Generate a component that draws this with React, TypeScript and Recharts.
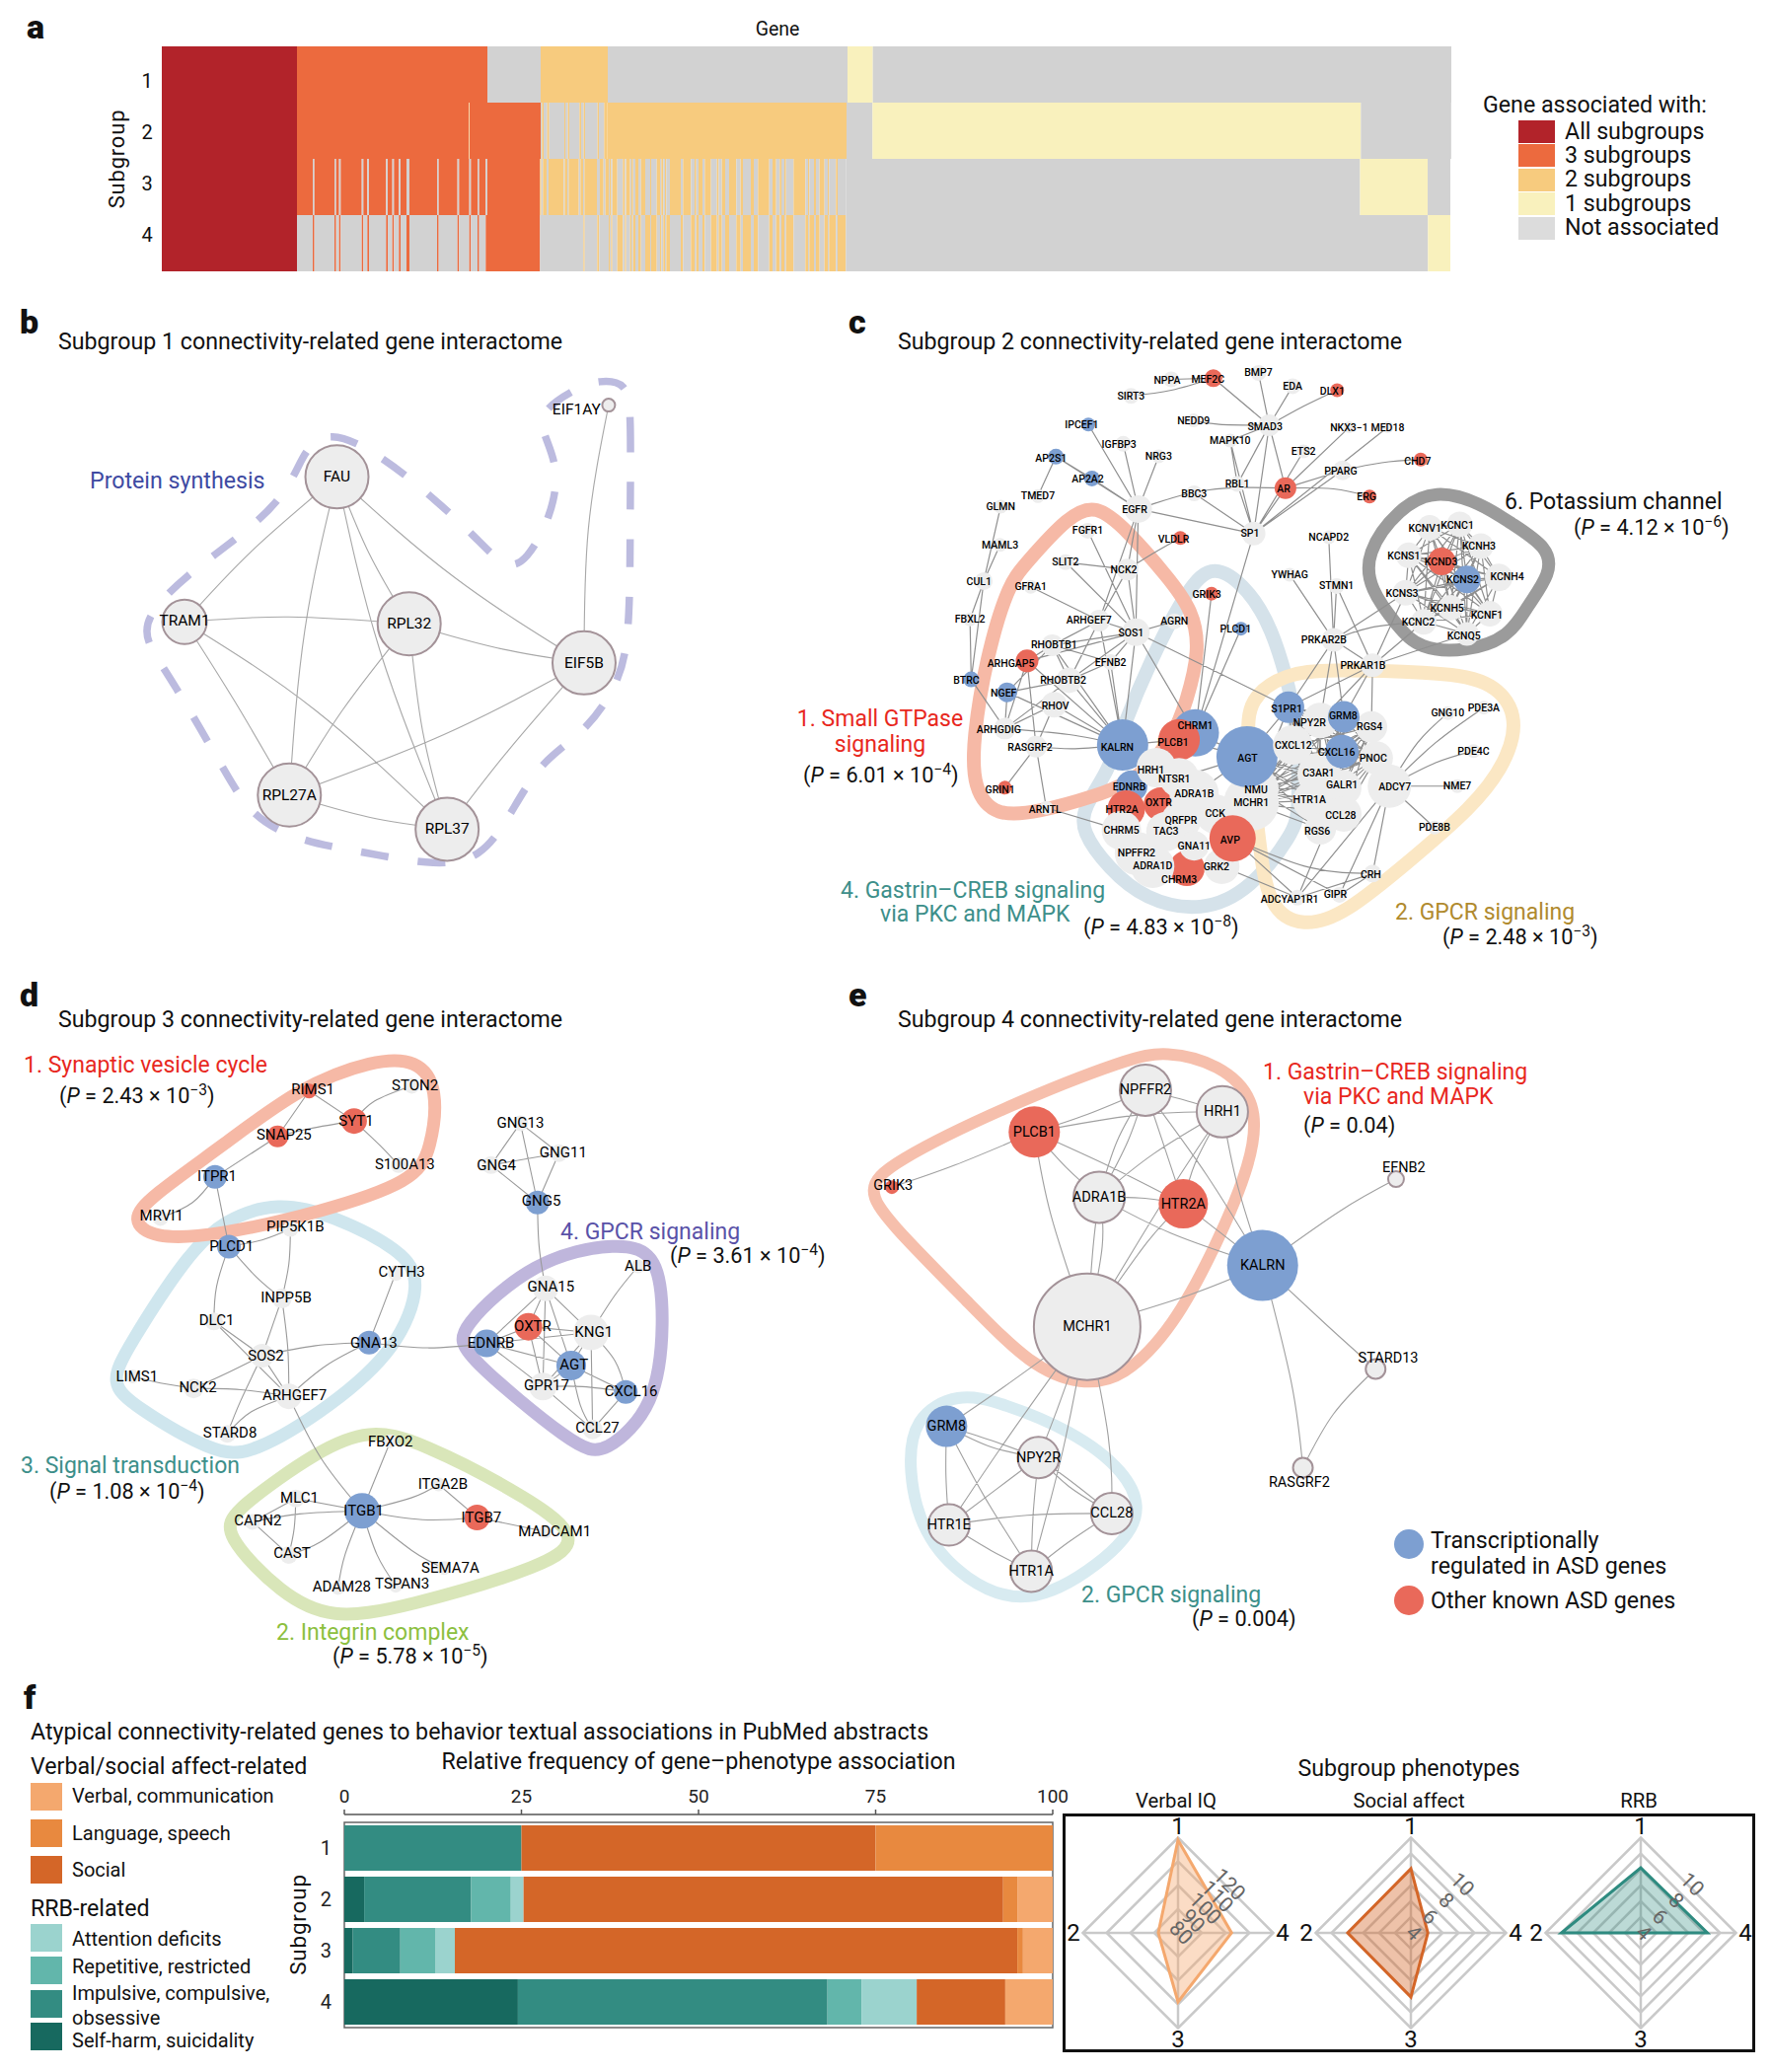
import React from 'react'
import {
  BarChart, Bar, Cell, XAxis, YAxis, ReferenceArea, ComposedChart, Line, Scatter,
  RadarChart, Radar, PolarGrid, PolarAngleAxis, PolarRadiusAxis,
} from 'recharts'

const FONT = 'Roboto, sans-serif'
const BODY = 23.2
const NOTE = 23
const PSIZE = 21.7

// ---- panel a: association per gene block, [status, number of genes]
const statusColors: Record<number, string> = { 4: '#b2232a', 3: '#ec6a3e', 2: '#f7cb7e', 1: '#f9f1bd', 0: '#d2d2d2' }
const subgroups = ['1', '2', '3', '4']
const threeSubgroupStripes = [48, 61, 9, 64, 12, 52, 14, 15, 18, 84, 57, 31, 20, 20]
const threeSubgroupStripeWidths = [5, 5, 5, 5, 5, 5, 5, 5, 9, 5, 5, 5, 5, 5]
const twoSubgroupRow2 = [4, 5, 11, 6, 46, 3, 8, 4, 31, 5, 8, 4, 38, 4, 16, 10]
const twoSubgroupRow3: number[][] = [[2, 4], [0, 5], [2, 11], [0, 6], [2, 46], [0, 3], [2, 8], [0, 4], [2, 31], [0, 5], [2, 8], [0, 4], [2, 38], [0, 9], [2, 11], [0, 6], [2, 4]]
const twoSubgroupRow4: number[][] = [[0, 132], [2, 4], [0, 38], [2, 6], [0, 23]]
// alternating: gene in subgroup 3, gene in subgroup 4, ...
const row3row4Turns = [6, 3, 4, 4, 15, 17, 6, 4, 12, 4, 5, 7, 9, 8, 13, 15, 3, 17, 10, 4, 6, 5, 4, 11, 33, 7, 24, 11, 5, 7, 12, 7, 19, 18, 5, 10, 10, 12, 22, 13, 7, 24, 9, 13, 34, 10, 11, 11, 5, 9, 5, 23, 36, 8, 4, 14, 6, 11, 15, 10, 4, 21, 5, 25]

const stripes3: number[][] = threeSubgroupStripes.flatMap((w, i) => [[3, w], [0, threeSubgroupStripeWidths[i]]])
const stripes4: number[][] = threeSubgroupStripes.flatMap((w, i) => [[0, w], [3, threeSubgroupStripeWidths[i]]])
const row2Two: number[][] = twoSubgroupRow2.map((w, i) => [i % 2 ? 2 : 0, w])

const geneRuns: number[][][] = [
  [[4, 411], [3, 579], [0, 162], [2, 204], [0, 729], [1, 77], [0, 1759]],
  [[4, 411], [3, 522], [1, 2.4], [3, 216.6], ...row2Two, [2, 727], [0, 79], [1, 1485], [0, 274.5]],
  [[4, 411], ...stripes3, [3, 160], ...twoSubgroupRow3, ...row3row4Turns.map((w, i) => [i % 2 ? 0 : 2, w]), [0, 1563.5], [1, 205.5], [0, 69]],
  [[4, 411], ...stripes4, [3, 160], ...twoSubgroupRow4, ...row3row4Turns.map((w, i) => [i % 2 ? 2 : 0, w]), [0, 1770], [1, 68]],
]
const geneRows = subgroups.map((s, r) => {
  const row: Record<string, any> = { subgroup: s }
  geneRuns[r].forEach(([, w], i) => { row['s' + i] = w })
  return row
})
const maxRuns = Math.max(...geneRuns.map(r => r.length))
const geneLegend = [['All subgroups', 4], ['3 subgroups', 3], ['2 subgroups', 2], ['1 subgroups', 1], ['Not associated', 5]] as const

// ---- networks: [name, x, y, radius, kind, label x, label y], in the layout units of each panel
type NodeRow = [string, number, number, number, string, number?, number?]

const nodesB: NodeRow[] = [
  ['FAU', 630, 400, 32, 'g'], ['TRAM1', 345, 760, 22.5, 'g', 345, 758], ['RPL32', 765, 765, 32, 'g'], ['EIF5B', 1092, 862, 32, 'g'],
  ['RPL27A', 541, 1190, 32, 'g'], ['RPL37', 836, 1275, 32, 'g'], ['EIF1AY', 1138, 222, 6.5, 'g', 1078, 233],
]
const edgesB = [
  'FAU TRAM1 470 585', 'FAU RPL27A 570 780', 'FAU RPL37 710 830', 'FAU RPL32 690 590', 'FAU EIF5B 850 650',
  'TRAM1 RPL32 540 748', 'TRAM1 RPL27A 440 960', 'TRAM1 RPL37 590 980', 'RPL32 RPL27A 640 980', 'RPL32 RPL37 790 1030',
  'RPL32 EIF5B 930 825', 'EIF5B RPL27A 830 1040', 'EIF5B RPL37 950 1080', 'RPL27A RPL37 690 1245', 'EIF1AY EIF5B 1100 530',
]
const hullB = [[1172, 165], [1180, 240], [1178, 500], [1178, 800], [1155, 920], [1090, 1040], [1010, 1105], [950, 1250], [900, 1345], [820, 1368], [680, 1332], [560, 1305], [470, 1245], [420, 1130], [320, 900], [272, 810], [272, 750], [340, 650], [480, 520], [545, 420], [570, 330], [615, 285], [700, 335], [800, 440], [890, 550], [945, 630], [985, 610], [1030, 500], [1047, 380], [1012, 285], [1012, 235], [1080, 178], [1120, 160]]

const nodesC: NodeRow[] = [
  ['NPPA', 570, 158, 8, 'g', 563, 160], ['MEF2C', 640, 155, 9, 'r', 631, 158], ['BMP7', 715, 142, 8, 'g'], ['EDA', 772, 175, 8, 'g'], ['DLX1', 846, 185, 7, 'r', 838, 187],
  ['SIRT3', 503, 199, 8, 'g'], ['NEDD9', 607, 260, 7, 'g'], ['SMAD3', 733, 272, 11, 'g', 726, 275], ['MAPK10', 668, 310, 7, 'g'], ['IPCEF1', 432, 270, 7, 'b', 421, 271],
  ['IGFBP3', 490, 318, 8, 'g', 483, 319], ['NRG3', 549, 349, 7, 'g'], ['AP2S1', 378, 350, 8, 'b', 370, 353], ['AP2A2', 438, 404, 8, 'b', 431, 406],
  ['NKX3−1', 866, 277, 6, 'g'], ['MED18', 930, 277, 6, 'g'], ['ETS2', 790, 337, 7, 'g'], ['CHD7', 985, 357, 7, 'r', 980, 361], ['PPARG', 855, 384, 10, 'g', 852, 385],
  ['RBL1', 680, 418, 8, 'g'], ['AR', 760, 428, 11, 'r', 757, 430], ['BBC3', 608, 441, 8, 'g'], ['ERG', 900, 449, 7, 'r', 895, 450], ['TMED7', 348, 448, 7, 'g'],
  ['GLMN', 286, 474, 7, 'g'], ['EGFR', 515, 480, 14, 'g', 509, 481], ['SP1', 707, 541, 12, 'g', 701, 541], ['NCAPD2', 832, 550, 7, 'g'], ['FGFR1', 431, 534, 8, 'g'],
  ['VLDLR', 585, 552, 7, 'r', 574, 554], ['MAML3', 285, 569, 7, 'g'], ['SLIT2', 394, 612, 8, 'g'], ['NCK2', 497, 630, 11, 'g', 491, 630], ['GRIK3', 637, 690, 7, 'r', 629, 691],
  ['CUL1', 258, 659, 9, 'g', 250, 660], ['GFRA1', 336, 673, 7, 'g'], ['YWHAG', 767, 643, 7, 'g'], ['STMN1', 845, 671, 8, 'g'], ['FBXL2', 235, 754, 7, 'g'], ['ARHGEF7', 450, 757, 11, 'g', 433, 757],
  ['AGRN', 575, 759, 8, 'g'], ['SOS1', 511, 786, 14, 'g', 503, 787], ['PLCD1', 686, 777, 7, 'b', 677, 779], ['RHOBTB1', 372, 818, 11, 'g', 375, 816], ['PRKAR2B', 840, 805, 12, 'g', 824, 806],
  ['ARHGAP5', 330, 857, 11.5, 'r', 303, 864], ['EFNB2', 469, 860, 8, 'g'], ['PRKAR1B', 905, 868, 12, 'g', 889, 868], ['BTRC', 237, 903, 8, 'b', 229, 906], ['RHOBTB2', 400, 905, 13, 'g', 390, 906],
  ['NGEF', 297, 935, 10, 'b', 291, 937], ['RHOV', 375, 966, 13, 'g', 377, 969], ['ARHGDIG', 293, 1025, 11, 'g', 283, 1027], ['RASGRF2', 345, 1070, 11, 'g', 335, 1071], ['ARNTL', 362, 1222, 7, 'g', 360, 1226], ['GRIN1', 293, 1172, 7, 'r', 285, 1176],
  ['GNG10', 1030, 987, 7, 'g'], ['PDE3A', 1090, 973, 7, 'g'], ['PDE4C', 1073, 1081, 7, 'g'], ['NME7', 1046, 1168, 7, 'g'], ['PDE8B', 1008, 1271, 7, 'g'],
  ['ADCYAP1R1', 780, 1445, 8, 'g', 767, 1450], ['GIPR', 850, 1438, 8, 'g', 843, 1437], ['CRH', 905, 1385, 9, 'g', 902, 1387],
  ['KCNV1', 1000, 527, 13, 'g', 992, 528], ['KCNC1', 1050, 518, 13, 'g', 1046, 520], ['KCNH3', 1085, 572, 13, 'g', 1082, 573], ['KCNS1', 965, 595, 13, 'g', 957, 596], ['KCNH4', 1115, 650, 14, 'g', 1129, 648],
  ['KCNS3', 960, 688, 13, 'g', 954, 689], ['KCNH5', 1035, 725, 13, 'g', 1029, 727], ['KCNF1', 1100, 740, 13, 'g', 1095, 743], ['KCNC2', 990, 760, 13, 'g', 981, 761], ['KCNQ5', 1062, 790, 12, 'g', 1057, 794],
  ['KCND3', 1020, 610, 14, 'r', 1019, 611], ['KCNS2', 1062, 655, 14, 'b', 1055, 656],
  ['CHRM1', 610, 1036, 24, 'b', 610, 1019], ['PLCB1', 583, 1053, 21, 'r', 573, 1059], ['EDNRB', 504, 1168, 16, 'b', 500, 1170], ['KALRN', 489, 1066, 26, 'b', 480, 1071],
  ['HTR2A', 495, 1225, 19, 'r', 488, 1226], ['OXTR', 552, 1213, 17, 'r', 549, 1208], ['CHRM3', 596, 1372, 18, 'r', 583, 1401],
  ['HRH1', 545, 1122, 20, 'g', 536, 1127], ['NTSR1', 583, 1147, 20, 'g', 575, 1151], ['ADRA1B', 608, 1188, 25, 'g'], ['NMU', 711, 1176, 23, 'g'], ['MCHR1', 703, 1210, 28, 'g'],
  ['QRFPR', 586, 1254, 20, 'g'], ['CCK', 643, 1237, 20, 'g'], ['CHRM5', 487, 1278, 20, 'g'], ['TAC3', 561, 1281, 20, 'g'], ['GNA11', 608, 1316, 15, 'g'], ['NPFFR2', 512, 1335, 22, 'g'], ['ADRA1D', 539, 1367, 22, 'g'], ['GRK2', 654, 1367, 18, 'g', 645, 1368],
  ['AGT', 696, 1095, 31, 'b', 697, 1099], ['AVP', 672, 1298, 23.5, 'r', 668, 1301],
  ['NPY2R', 818, 1005, 18, 'g', 800, 1010], ['S1PR1', 765, 972, 16, 'b', 762, 976], ['RGS4', 903, 1021, 16, 'g', 900, 1021], ['CXCL12', 772, 1066, 20, 'g', 773, 1067], ['PNOC', 911, 1098, 17, 'g', 906, 1100], ['C3AR1', 816, 1139, 22, 'g', 815, 1135],
  ['GALR1', 857, 1172, 18, 'g', 854, 1166], ['ADCY7', 933, 1168, 22, 'g', 942, 1170], ['HTR1A', 805, 1204, 20, 'g', 800, 1202], ['CCL28', 857, 1237, 18, 'g', 852, 1240], ['RGS6', 818, 1274, 16, 'g', 813, 1280],
  ['GRM8', 857, 996, 16, 'b', 856, 993], ['CXCL16', 854, 1082, 17, 'b', 845, 1083],
]
const edgesC = [
  'NPPA MEF2C', 'SIRT3 MEF2C 570 185', 'MEF2C SMAD3', 'BMP7 SMAD3', 'EDA SMAD3', 'DLX1 SMAD3 790 225', 'NEDD9 SMAD3 650 270', 'SMAD3 RBL1', 'SMAD3 SP1', 'SMAD3 AR', 'SMAD3 MAPK10',
  'MAPK10 RBL1', 'MAPK10 SP1', 'RBL1 SP1', 'AR SP1', 'AR PPARG', 'AR ERG 840 430', 'EGFR AR 630 433', 'ETS2 SP1', 'NKX3−1 AR', 'MED18 SP1', 'PPARG SP1', 'PPARG CHD7 920 365', 'BBC3 SP1',
  'IPCEF1 EGFR', 'IGFBP3 EGFR', 'NRG3 EGFR', 'AP2S1 AP2A2', 'AP2S1 EGFR', 'AP2A2 EGFR', 'AP2S1 TMED7', 'GLMN CUL1', 'MAML3 CUL1', 'CUL1 FBXL2', 'CUL1 BTRC', 'FBXL2 BTRC',
  'EGFR NCK2', 'EGFR SOS1', 'EGFR ARHGEF7', 'FGFR1 SOS1', 'NCK2 SLIT2 440 620', 'NCK2 VLDLR 540 590', 'NCK2 SOS1', 'NCK2 ARHGEF7', 'SLIT2 SOS1', 'GFRA1 ARHGEF7', 'ARHGEF7 SOS1', 'SOS1 AGRN', 'SOS1 RHOBTB1', 'SOS1 ARHGAP5',
  'SOS1 RHOBTB2', 'SOS1 EFNB2', 'SOS1 S1PR1', 'SOS1 CHRM1', 'SOS1 KALRN', 'ARHGEF7 KALRN', 'EFNB2 KALRN', 'RHOBTB1 KALRN', 'RHOBTB2 KALRN', 'RHOV KALRN', 'NGEF KALRN', 'ARHGAP5 KALRN', 'ARHGDIG KALRN 400 1040', 'RASGRF2 KALRN 410 1075',
  'ARHGDIG ARHGAP5', 'ARHGDIG RHOV', 'ARHGDIG NGEF', 'ARHGDIG RHOBTB2', 'RASGRF2 RHOV', 'RASGRF2 ARHGAP5', 'NGEF RHOBTB1', 'NGEF RHOBTB2', 'BTRC ARHGDIG', 'RASGRF2 GRIN1', 'RASGRF2 ARNTL', 'ARNTL CHRM5', 'RHOBTB1 ARHGAP5', 'RHOBTB1 RHOBTB2', 'ARHGEF7 RHOBTB1', 'ARHGEF7 RHOBTB2', 'EFNB2 RHOBTB2', 'EFNB2 RHOBTB1',
  'GRIK3 CHRM1', 'SP1 CHRM1', 'PLCD1 CHRM1', 'EGFR SP1',
  'YWHAG PRKAR2B', 'NCAPD2 PRKAR2B', 'STMN1 PRKAR2B', 'STMN1 PRKAR1B', 'PRKAR2B PRKAR1B', 'PRKAR2B KCNS3', 'PRKAR2B KCNC2 900 775', 'PRKAR1B KCNC2', 'PRKAR1B KCNQ5', 'PRKAR1B KCNS3',
  'PRKAR2B S1PR1', 'PRKAR2B NPY2R', 'PRKAR2B GRM8', 'PRKAR1B GRM8', 'PRKAR1B RGS4', 'PRKAR1B NPY2R', 'PRKAR1B S1PR1',
  'GNG10 ADCY7 980 1060', 'PDE3A ADCY7 1010 1060', 'PDE4C ADCY7 1010 1110', 'NME7 ADCY7', 'PDE8B ADCY7', 'ADCY7 ADCYAP1R1', 'ADCY7 GIPR', 'ADCY7 CRH', 'GALR1 ADCYAP1R1',
  'AVP CRH 800 1370', 'AVP GIPR', 'AVP ADCYAP1R1', 'GRK2 ADCYAP1R1', 'CRH GIPR', 'CRH ADCYAP1R1', 'RGS6 MCHR1',
  'AGT CHRM1', 'AGT PLCB1', 'AGT NTSR1', 'AGT ADRA1B', 'PLCB1 KALRN',
]
const denseC = ['AGT', 'S1PR1', 'NPY2R', 'CXCL12', 'CXCL16', 'GRM8', 'C3AR1', 'GALR1', 'HTR1A', 'CCL28', 'RGS6', 'PNOC', 'RGS4', 'MCHR1', 'NMU']
const potassiumC = ['KCNV1', 'KCNC1', 'KCNH3', 'KCNS1', 'KCNH4', 'KCNS3', 'KCNH5', 'KCNF1', 'KCNC2', 'KCNQ5', 'KCND3', 'KCNS2']
const cliquePairs = (names: string[]) => names.flatMap((a, i) => names.slice(i + 1).map(b => a + ' ' + b))
const hullC1 = [[445, 468], [495, 530], [565, 650], [605, 730], [618, 830], [595, 960], [575, 1040], [520, 1150], [440, 1195], [350, 1232], [278, 1245], [240, 1175], [240, 1050], [262, 850], [298, 670], [325, 620], [400, 495]]
const hullC2 = [[830, 878], [1000, 885], [1100, 900], [1150, 990], [1128, 1110], [1072, 1220], [960, 1362], [860, 1485], [790, 1520], [730, 1472], [716, 1300], [696, 1050], [698, 950], [760, 888]]
const hullC4 = [[640, 612], [700, 680], [738, 780], [762, 900], [778, 1000], [784, 1230], [773, 1285], [703, 1425], [620, 1482], [526, 1450], [466, 1373], [420, 1280], [424, 1220], [466, 1130], [487, 1030], [537, 850], [598, 675]]
const hullC6 = [[1010, 430], [1085, 465], [1135, 515], [1198, 575], [1202, 640], [1163, 720], [1133, 798], [1060, 835], [982, 828], [947, 772], [900, 680], [893, 590], [948, 478]]

const nodesD: NodeRow[] = [
  ['RIMS1', 578, 237, 7.5, 'r', 585, 233], ['STON2', 770, 225, 8, 'g', 776, 225], ['SYT1', 662, 305, 13, 'r', 666, 305], ['SNAP25', 519, 340, 11, 'r', 531, 337], ['S100A13', 745, 405, 8, 'g', 757, 403],
  ['ITPR1', 402, 432, 12, 'b', 406, 430], ['MRVI1', 300, 525, 8, 'g', 302, 520], ['PIP5K1B', 543, 550, 8, 'g', 552, 545], ['PLCD1', 428, 590, 12, 'b', 433, 590], ['CYTH3', 740, 650, 8, 'g', 751, 647],
  ['INPP5B', 527, 708, 10, 'g', 535, 705], ['DLC1', 400, 760, 9, 'g', 405, 757], ['GNA13', 690, 808, 12, 'b', 699, 808], ['SOS2', 490, 838, 12, 'g', 497, 838], ['LIMS1', 248, 885, 7, 'g', 256, 885],
  ['NCK2', 362, 912, 10, 'g', 370, 910], ['ARHGEF7', 540, 930, 13, 'g', 551, 928], ['STARD8', 425, 1015, 9, 'g', 430, 1012], ['GNG13', 973, 310, 8, 'g'], ['GNG11', 1045, 378, 9, 'g', 1053, 376],
  ['GNG4', 918, 405, 9, 'g', 928, 406], ['GNG5', 1005, 490, 12, 'b', 1012, 487], ['ALB', 1193, 635, 7, 'g'], ['GNA15', 1020, 685, 13, 'g', 1030, 681], ['KNG1', 1105, 785, 18, 'g', 1110, 785],
  ['OXTR', 988, 772, 14, 'r', 996, 770], ['EDNRB', 910, 810, 14, 'b', 918, 808], ['GPR17', 1015, 908, 14, 'g', 1022, 905], ['AGT', 1068, 860, 15, 'b', 1073, 859], ['CXCL16', 1170, 920, 12, 'b', 1180, 918],
  ['CCL27', 1108, 1005, 10, 'g', 1117, 1002], ['FBXO2', 730, 1032, 7, 'g'], ['ITGA2B', 820, 1130, 7, 'g', 828, 1130], ['MLC1', 553, 1162, 9, 'g', 560, 1160], ['ITGB1', 677, 1190, 18, 'b', 680, 1190],
  ['ITGB7', 892, 1205, 13, 'r', 900, 1205], ['CAPN2', 472, 1215, 8, 'g', 482, 1212], ['MADCAM1', 1020, 1237, 7, 'g', 1037, 1236], ['CAST', 540, 1290, 9, 'g', 546, 1286], ['SEMA7A', 830, 1320, 7, 'g', 842, 1320],
  ['ADAM28', 632, 1365, 7, 'g', 639, 1362], ['TSPAN3', 740, 1360, 7, 'g', 752, 1356],
]
const edgesD = [
  'STON2 SYT1 700 260', 'RIMS1 SYT1', 'RIMS1 SNAP25', 'SNAP25 SYT1 580 322', 'SYT1 S100A13 710 360', 'SNAP25 ITPR1', 'ITPR1 MRVI1 360 490', 'ITPR1 PLCD1', 'PLCD1 PIP5K1B 490 575', 'PLCD1 INPP5B 480 660', 'PLCD1 DLC1 405 680',
  'PIP5K1B INPP5B 540 630', 'INPP5B SOS2', 'INPP5B ARHGEF7 538 820', 'DLC1 SOS2', 'DLC1 ARHGEF7', 'CYTH3 GNA13 715 730', 'SOS2 GNA13 590 815', 'GNA13 ARHGEF7 610 860', 'GNA13 EDNRB 800 820', 'SOS2 NCK2 420 880',
  'SOS2 ARHGEF7', 'SOS2 STARD8 450 940', 'NCK2 LIMS1 300 900', 'NCK2 ARHGEF7 450 915', 'ARHGEF7 STARD8 470 965', 'ARHGEF7 ITGB1 600 1070',
  'GNG13 GNG11', 'GNG13 GNG4', 'GNG13 GNG5', 'GNG11 GNG4', 'GNG11 GNG5', 'GNG4 GNG5', 'GNG5 GNA15 1008 590',
  'GNA15 EDNRB', 'GNA15 OXTR', 'GNA15 KNG1', 'GNA15 AGT', 'GNA15 GPR17', 'ALB KNG1 1150 700', 'OXTR KNG1', 'OXTR AGT', 'OXTR GPR17', 'EDNRB KNG1', 'EDNRB AGT', 'EDNRB GPR17', 'EDNRB OXTR',
  'KNG1 AGT', 'KNG1 GPR17', 'KNG1 CXCL16 1150 850', 'KNG1 CCL27', 'AGT CXCL16', 'AGT GPR17', 'AGT CCL27 1085 950', 'GPR17 CXCL16 1090 908', 'GPR17 CCL27', 'CXCL16 CCL27',
  'FBXO2 ITGB1', 'ITGA2B ITGB1 770 1160', 'ITGA2B ITGB7', 'ITGB1 ITGB7 790 1210', 'ITGB7 MADCAM1', 'MLC1 ITGB1', 'MLC1 CAPN2', 'MLC1 CAST 550 1230', 'CAPN2 ITGB1 560 1197', 'CAPN2 CAST', 'CAST ITGB1 600 1260', 'ADAM28 ITGB1 645 1290', 'TSPAN3 ITGB1 705 1290', 'SEMA7A ITGB1 770 1280',
]
const hullD1 = [[700, 165], [780, 165], [820, 230], [806, 370], [775, 442], [600, 512], [400, 567], [285, 572], [245, 530], [280, 478], [420, 358], [560, 228]]
const hullD2 = [[520, 488], [620, 518], [752, 598], [790, 670], [743, 822], [620, 952], [470, 1064], [400, 1060], [250, 952], [205, 900], [238, 820], [350, 608], [420, 528]]
const hullD3 = [[690, 1006], [780, 1028], [1000, 1168], [1085, 1252], [1030, 1312], [750, 1412], [620, 1436], [528, 1382], [415, 1240], [438, 1188], [600, 1048]]
const hullD4 = [[1160, 578], [1232, 608], [1242, 760], [1228, 952], [1130, 1064], [1078, 1048], [862, 830], [855, 780], [998, 618]]

const nodesE: NodeRow[] = [
  ['NPFFR2', 527, 235, 26, 'g'], ['HRH1', 655, 284, 26, 'g'], ['PLCB1', 342, 330, 26, 'r'], ['GRIK3', 105, 455, 7, 'r', 107, 452], ['ADRA1B', 450, 478, 26, 'g'], ['HTR2A', 590, 493, 25, 'r'],
  ['KALRN', 722, 633, 36, 'b'], ['MCHR1', 430, 772, 54, 'g'], ['EFNB2', 944, 437, 8, 'g', 957, 410], ['STARD13', 910, 868, 10, 'g', 931, 843], ['RASGRF2', 789, 1092, 10, 'g', 783, 1125],
  ['GRM8', 196, 998, 21, 'b'], ['NPY2R', 349, 1069, 21, 'g'], ['CCL28', 471, 1196, 21, 'g'], ['HTR1E', 200, 1222, 21, 'g'], ['HTR1A', 337, 1327, 21, 'g'],
]
const edgesE = [
  'NPFFR2 PLCB1 430 290', 'NPFFR2 HRH1 585 255', 'PLCB1 HRH1 510 292', 'PLCB1 GRIK3 210 405', 'PLCB1 ADRA1B 395 410', 'PLCB1 HTR2A 470 410', 'PLCB1 MCHR1 370 520', 'NPFFR2 ADRA1B 480 350', 'NPFFR2 ADRA1B 498 350',
  'NPFFR2 HTR2A 560 370', 'NPFFR2 KALRN 630 430', 'HRH1 ADRA1B 540 380', 'HRH1 HTR2A 610 400', 'HRH1 MCHR1 560 480', 'HRH1 KALRN 680 450', 'ADRA1B HTR2A 520 480', 'ADRA1B KALRN 570 560', 'ADRA1B MCHR1 440 590', 'ADRA1B MCHR1 455 590',
  'HTR2A KALRN', 'HTR2A MCHR1 530 580', 'KALRN MCHR1 600 700', 'KALRN EFNB2 850 510', 'KALRN STARD13 830 770', 'KALRN RASGRF2 770 900', 'STARD13 RASGRF2 840 970',
  'MCHR1 GRM8 290 910', 'MCHR1 NPY2R 380 960', 'MCHR1 HTR1E 300 1020', 'MCHR1 HTR1A 390 1050', 'MCHR1 CCL28 465 1020', 'GRM8 NPY2R 270 1030', 'GRM8 NPY2R 270 1045', 'GRM8 HTR1E 195 1110', 'GRM8 HTR1A 260 1160',
  'NPY2R HTR1E 280 1140', 'NPY2R HTR1A 340 1200', 'NPY2R CCL28 410 1130', 'NPY2R CCL28 400 1135', 'HTR1E CCL28 330 1200', 'HTR1E HTR1A 270 1280', 'HTR1A CCL28 400 1260',
]
const hullE1 = [[560, 146], [650, 174], [716, 260], [704, 400], [644, 590], [574, 772], [490, 890], [420, 905], [336, 862], [236, 722], [96, 530], [64, 460], [98, 403], [300, 268], [500, 162]]
const hullE2 = [[215, 920], [290, 946], [402, 1006], [494, 1098], [528, 1205], [452, 1314], [330, 1410], [226, 1349], [155, 1242], [132, 1100], [140, 978]]

// ---- panel f
const phenotypeRows = ['1', '2', '3', '4']
const selfHarm = [0, 2.8, 1.2, 24.5]
const impulsive = [25, 15.1, 6.7, 43.7]
const repetitive = [0, 5.6, 5, 4.8]
const attention = [0, 1.8, 2.7, 7.8]
const social = [50, 67.7, 79.4, 12.5]
const language = [25, 2, 0.8, 0]
const verbal = [0, 5, 4.2, 6.7]
const freqTicks = [0, 25, 50, 75, 100]
const freqSeries: [string, number[], string][] = [
  ['selfHarm', selfHarm, '#17695f'], ['impulsive', impulsive, '#338c82'], ['repetitive', repetitive, '#62b6ab'], ['attention', attention, '#9bd3ce'],
  ['social', social, '#d46628'], ['language', language, '#e8893f'], ['verbal', verbal, '#f4a86e'],
]
const freqRows = phenotypeRows.map((s, i) => {
  const row: Record<string, any> = { subgroup: s }
  freqSeries.forEach(([k, v]) => { row[k] = v[i] })
  return row
})

// subgroups clockwise from the top
const radarAxes = ['1', '4', '3', '2']
const verbalIQ = [119, 102.5, 109, 88.3]
const socialAffect = [8.05, 5.07, 8.05, 7.98]
const rrb = [8.1, 8.2, 4, 9]

const KIND_FILL: Record<string, string> = { g: '#ededed', b: '#7d9fd1', r: '#e9695a' }
const RED = '#e8281e'
const TEAL = '#3d8f8a'
const RADAR_C = 140

function T({ x, y, size = BODY, color = '#111', anchor = 'start', weight = 400, children }: any) {
  const tx = anchor === 'center' ? '-50%' : anchor === 'end' ? '-100%' : '0'
  return (
    <div style={{ position: 'absolute', left: x, top: y, transform: `translate(${tx},-50%)`, fontSize: size, color, fontWeight: weight, whiteSpace: 'nowrap', lineHeight: 1 }}>
      {children}
    </div>
  )
}

function PVal({ x, y, v, exp, size = PSIZE }: any) {
  return (
    <T x={x} y={y} size={size}>
      (<i>P</i> = {v}{exp ? <> × 10<sup style={{ fontSize: size * 0.72, lineHeight: 0 }}>{exp}</sup></> : null})
    </T>
  )
}

const pts = (a: number[][]) => a.map(([x, y]) => ({ x, y }))

function Network({ left, top, width, height, nodes, edges, hulls, fontSize, outlined, edgeColor, edgeWidth = 1.1, fontWeight = 400 }: any) {
  const byName: Record<string, NodeRow> = {}
  nodes.forEach((n: NodeRow) => { byName[n[0]] = n })
  const edgePoints: any[] = []
  edges.forEach((e: string) => {
    const [a, b, mx, my] = e.split(' ')
    edgePoints.push({ x: byName[a][1], y: byName[a][2] })
    if (mx) edgePoints.push({ x: +mx, y: +my })
    edgePoints.push({ x: byName[b][1], y: byName[b][2] })
    edgePoints.push({ x: null, y: null })
  })
  const nodeData = nodes.map((n: NodeRow) => ({ x: n[1], y: n[2], r: n[3], kind: n[4] }))
  const labelData = nodes.map((n: NodeRow) => ({ x: n[5] ?? n[1], y: n[6] ?? n[2], name: n[0] }))
  return (
    <ComposedChart width={width} height={height} margin={{ top: 0, right: 0, bottom: 0, left: 0 }} style={{ position: 'absolute', left, top }}>
      <XAxis type="number" dataKey="x" domain={[0, 1568]} hide />
      <YAxis type="number" dataKey="y" domain={[0, 1568]} reversed hide />
      {hulls.map((h: any, i: number) => (
        <Line key={i} data={pts(h.points)} dataKey="y" type="basisClosed" dot={false} activeDot={false} stroke={h.color} strokeWidth={h.width}
          strokeDasharray={h.dash} isAnimationActive={false} />
      ))}
      <Line data={edgePoints} dataKey="y" type="natural" dot={false} activeDot={false} stroke={edgeColor} strokeWidth={edgeWidth} isAnimationActive={false} />
      <Scatter data={nodeData} isAnimationActive={false} shape={(p: any) => (
        <circle cx={p.cx} cy={p.cy} r={p.payload.r} fill={KIND_FILL[p.payload.kind]}
          stroke={outlined && p.payload.kind === 'g' ? '#a39298' : 'none'} strokeWidth={outlined ? 2 : 0} />
      )} />
      <Scatter data={labelData} isAnimationActive={false} shape={(p: any) => (
        <text x={p.cx} y={p.cy} textAnchor="middle" dominantBaseline="central" fontSize={fontSize} fontWeight={fontWeight} fill="#000" fontFamily={FONT}>{p.payload.name}</text>
      )} />
    </ComposedChart>
  )
}

function GeneTick({ x, y, payload, index }: any) {
  const shift = [6.5, 1, -4, -9][index]
  return <text x={x - 7} y={y + shift} textAnchor="middle" dominantBaseline="central" fontSize={20} fill="#111" fontFamily={FONT}>{payload.value}</text>
}

function GeneMatrix() {
  return (
    <BarChart layout="vertical" width={1371} height={228} data={geneRows} barCategoryGap={0} margin={{ top: 0, right: 0, bottom: 0, left: 0 }}
      style={{ position: 'absolute', left: 100, top: 47 }}>
      <XAxis type="number" domain={[0, 3921]} hide />
      <YAxis type="category" dataKey="subgroup" width={64} axisLine={false} tickLine={false} tick={<GeneTick />}
        label={{ value: 'Subgroup', angle: -90, position: 'center', dx: -14, fontSize: 22, fill: '#111', letterSpacing: 0.8 }} />
      {Array.from({ length: maxRuns }, (_, i) => (
        <Bar key={i} dataKey={'s' + i} stackId="a" isAnimationActive={false}>
          {geneRuns.map((run, r) => <Cell key={r} fill={statusColors[run[i] ? run[i][0] : 0]} />)}
        </Bar>
      ))}
    </BarChart>
  )
}

function FreqChart() {
  return (
    <BarChart layout="vertical" width={797} height={262} data={freqRows} barCategoryGap={3} margin={{ top: 0, right: 20, bottom: 0, left: 0 }}
      style={{ position: 'absolute', left: 290, top: 1800 }}>
      <XAxis type="number" orientation="top" domain={[0, 100]} ticks={freqTicks} height={39} interval={0} stroke="#555" strokeWidth={1.5} tickSize={5} tickMargin={7}
        tick={{ fontSize: 19, fill: '#222', fontFamily: FONT }} />
      <YAxis type="category" dataKey="subgroup" width={59} axisLine={false} tickLine={false} padding={{ top: 8, bottom: 7 }} tickMargin={7}
        tick={{ fontSize: 20, fill: '#222', fontFamily: FONT }}
        label={{ value: 'Subgroup', angle: -90, position: 'center', dx: -17, fontSize: 22.5, fill: '#111', letterSpacing: 0.8 }} />
      <ReferenceArea x1={0} x2={100} fill="none" stroke="#666" strokeWidth={1.5} ifOverflow="visible" />
      {freqSeries.map(([k, , c]) => <Bar key={k} dataKey={k} stackId="a" fill={c} isAnimationActive={false} />)}
    </BarChart>
  )
}

function RadiusTick({ x, y, payload, step }: any) {
  if (step && payload.value % step !== 0) return null
  // the axis sits on the middle of the diamond edge, not on a true circle
  const px = RADAR_C + (x - RADAR_C) * 0.72 + 3
  const py = RADAR_C + (y - RADAR_C) * 0.72
  return <text x={px} y={py} transform={`rotate(45 ${px} ${py})`} textAnchor="middle" dominantBaseline="central" fontSize={21} fill="#666" fontFamily={FONT}>{payload.value}</text>
}

function AngleTick({ x, y, payload }: any) {
  const dx = x - RADAR_C
  const dy = y - RADAR_C
  const horizontal = Math.abs(dx) > Math.abs(dy)
  const px = horizontal ? RADAR_C + Math.sign(dx) * 106 : RADAR_C
  const py = horizontal ? RADAR_C : RADAR_C + Math.sign(dy) * 108
  return <text x={px} y={py} textAnchor="middle" dominantBaseline="central" fontSize={24} fill="#111" fontFamily={FONT}>{payload.value}</text>
}

function Phenotype({ left, values, domain, tickCount, step, color, fillOpacity }: any) {
  const data = radarAxes.map((s, i) => ({ s, v: values[i] }))
  return (
    <RadarChart width={RADAR_C * 2} height={RADAR_C * 2} data={data} outerRadius={96.5} margin={{ top: 0, right: 0, bottom: 0, left: 0 }}
      style={{ position: 'absolute', left, top: 1819 }}>
      <PolarGrid gridType="polygon" stroke="#c9c9c9" strokeWidth={2.5} />
      <PolarAngleAxis dataKey="s" tick={<AngleTick />} tickLine={false} axisLine={false} />
      <Radar dataKey="v" stroke={color} strokeWidth={3} fill={color} fillOpacity={fillOpacity} isAnimationActive={false} />
      <PolarRadiusAxis angle={45} domain={domain} tickCount={tickCount} axisLine={false} tickLine={false} tick={<RadiusTick step={step} />} />
    </RadarChart>
  )
}

function Swatch({ x, y, w, h, c }: any) {
  return <div style={{ position: 'absolute', left: x, top: y, width: w, height: h, background: c }} />
}

function Dot({ x, y, r, c }: any) {
  return <div style={{ position: 'absolute', left: x - r, top: y - r, width: 2 * r, height: 2 * r, borderRadius: '50%', background: c }} />
}

export default function App() {
  return (
    <div style={{ position: 'absolute', left: 0, top: 0, width: 1795, height: 2100, background: '#fff', overflow: 'hidden', fontFamily: FONT }}>
      <GeneMatrix />
      <T x={788} y={30} size={19.5} anchor="center">Gene</T>
      <T x={27} y={27} size={34} weight={900}>a</T>
      <T x={1503} y={107}>Gene associated with:</T>
      {geneLegend.map(([l, s], i) => (
        <React.Fragment key={l}>
          <Swatch x={1539} y={122 + i * 24.4} w={37} h={23} c={s === 5 ? '#dcdcdc' : statusColors[s]} />
          <T x={1586} y={133.5 + i * 24.4}>{l}</T>
        </React.Fragment>
      ))}

      <Network left={0} top={320} width={850} height={640} nodes={nodesB} edges={edgesB} fontSize={15.5} outlined edgeColor="#a8a8a8"
        hulls={[{ points: hullB, color: '#bcbbdf', width: 7.5, dash: '28 30' }]} />
      <T x={20} y={326} size={34} weight={900}>b</T>
      <T x={59} y={347}>Subgroup 1 connectivity-related gene interactome</T>
      <T x={91} y={488} color="#3e4aa2">Protein synthesis</T>

      <Network left={840} top={320} width={955} height={640} nodes={nodesC} edges={[...cliquePairs(denseC), ...cliquePairs(potassiumC), ...edgesC]} fontSize={10.5} fontWeight={500} edgeColor="#8f8f8f" edgeWidth={1.2}
        hulls={[
          { points: hullC6, color: '#9b9b9b', width: 13 },
          { points: hullC4, color: '#d5e2ea', width: 14 },
          { points: hullC2, color: '#fbe7c4', width: 14 },
          { points: hullC1, color: '#f6b9a6', width: 14 },
        ]} />
      <T x={860} y={326} size={34} weight={900}>c</T>
      <T x={910} y={347}>Subgroup 2 connectivity-related gene interactome</T>
      <T x={892} y={728} size={NOTE} color={RED} anchor="center">1. Small GTPase</T>
      <T x={892} y={754} size={NOTE} color={RED} anchor="center">signaling</T>
      <PVal x={814} y={786} v="6.01" exp="−4" />
      <T x={1525} y={508} size={NOTE}>6. Potassium channel</T>
      <PVal x={1595} y={535} v="4.12" exp="−6" />
      <T x={852} y={902} size={NOTE} color={TEAL}>4. Gastrin–CREB signaling</T>
      <T x={892} y={926} size={NOTE} color={TEAL}>via PKC and MAPK</T>
      <PVal x={1098} y={940} v="4.83" exp="−8" />
      <T x={1414} y={924} size={NOTE} color="#b08a2e">2. GPCR signaling</T>
      <PVal x={1462} y={950} v="2.48" exp="−3" />

      <Network left={0} top={1000} width={850} height={700} nodes={nodesD} edges={edgesD} fontSize={15} edgeColor="#9a9a9a"
        hulls={[
          { points: hullD2, color: '#cfe6ee', width: 13 },
          { points: hullD1, color: '#f6b9a6', width: 13 },
          { points: hullD3, color: '#d9e6b9', width: 13 },
          { points: hullD4, color: '#bfb6dc', width: 13 },
        ]} />
      <T x={20} y={1008} size={34} weight={900}>d</T>
      <T x={59} y={1034}>Subgroup 3 connectivity-related gene interactome</T>
      <T x={24} y={1079} size={NOTE} color={RED}>1. Synaptic vesicle cycle</T>
      <PVal x={60} y={1111} v="2.43" exp="−3" />
      <T x={21} y={1485} size={NOTE} color={TEAL}>3. Signal transduction</T>
      <PVal x={50} y={1512} v="1.08" exp="−4" />
      <T x={568} y={1248} size={NOTE} color="#5a52a8">4. GPCR signaling</T>
      <PVal x={679} y={1273} v="3.61" exp="−4" />
      <T x={280} y={1654} size={NOTE} color="#8cbf3f">2. Integrin complex</T>
      <PVal x={337} y={1679} v="5.78" exp="−5" />

      <Network left={840} top={1000} width={955} height={700} nodes={nodesE} edges={edgesE} fontSize={14.5} outlined edgeColor="#a0a0a0"
        hulls={[
          { points: hullE1, color: '#f6bfac', width: 12 },
          { points: hullE2, color: '#d8ebf1', width: 12 },
        ]} />
      <T x={860} y={1008} size={34} weight={900}>e</T>
      <T x={910} y={1034}>Subgroup 4 connectivity-related gene interactome</T>
      <T x={1280} y={1086} size={NOTE} color={RED}>1. Gastrin–CREB signaling</T>
      <T x={1321} y={1111} size={NOTE} color={RED}>via PKC and MAPK</T>
      <PVal x={1321} y={1141} v="0.04" />
      <T x={1096} y={1616} size={NOTE} color={TEAL}>2. GPCR signaling</T>
      <PVal x={1208} y={1641} v="0.004" />
      <Dot x={1428} y={1565} r={15} c="#7d9fd1" />
      <Dot x={1428} y={1622} r={15} c="#e9695a" />
      <T x={1450} y={1562}>Transcriptionally</T>
      <T x={1450} y={1588}>regulated in ASD genes</T>
      <T x={1450} y={1623}>Other known ASD genes</T>

      <T x={24} y={1720} size={34} weight={900}>f</T>
      <T x={31} y={1756}>Atypical connectivity-related genes to behavior textual associations in PubMed abstracts</T>
      <T x={31} y={1791}>Verbal/social affect-related</T>
      <T x={708} y={1786} anchor="center">Relative frequency of gene–phenotype association</T>
      <Swatch x={31} y={1807} w={32} h={28} c="#f4a86e" />
      <Swatch x={31} y={1844} w={32} h={28} c="#e8893f" />
      <Swatch x={31} y={1881} w={32} h={28} c="#d46628" />
      <T x={73} y={1820} size={20}>Verbal, communication</T>
      <T x={73} y={1858} size={20}>Language, speech</T>
      <T x={73} y={1895} size={20}>Social</T>
      <T x={31} y={1935}>RRB-related</T>
      <Swatch x={31} y={1950} w={32} h={28} c="#9bd3ce" />
      <Swatch x={31} y={1983} w={32} h={28} c="#62b6ab" />
      <Swatch x={31} y={2017} w={32} h={28} c="#338c82" />
      <Swatch x={31} y={2050} w={32} h={28} c="#17695f" />
      <T x={73} y={1965} size={20}>Attention deficits</T>
      <T x={73} y={1993} size={20}>Repetitive, restricted</T>
      <T x={73} y={2020} size={20}>Impulsive, compulsive,</T>
      <T x={73} y={2045} size={20}>obsessive</T>
      <T x={73} y={2068} size={20}>Self-harm, suicidality</T>
      <FreqChart />

      <T x={1428} y={1793} anchor="center">Subgroup phenotypes</T>
      <T x={1192} y={1825} size={20.3} anchor="center">Verbal IQ</T>
      <T x={1428} y={1825} size={20.3} anchor="center">Social affect</T>
      <T x={1661} y={1825} size={20.3} anchor="center">RRB</T>
      <div style={{ position: 'absolute', left: 1077, top: 1838, width: 702, height: 242, border: '3px solid #111', boxSizing: 'border-box' }} />
      <Phenotype left={1054} values={verbalIQ} domain={[80, 120]} tickCount={5} color="#f4a86e" fillOpacity={0.4} />
      <Phenotype left={1290} values={socialAffect} domain={[4, 10]} tickCount={7} step={2} color="#d46628" fillOpacity={0.4} />
      <Phenotype left={1523} values={rrb} domain={[4, 10]} tickCount={7} step={2} color="#2e8b80" fillOpacity={0.32} />
    </div>
  )
}
